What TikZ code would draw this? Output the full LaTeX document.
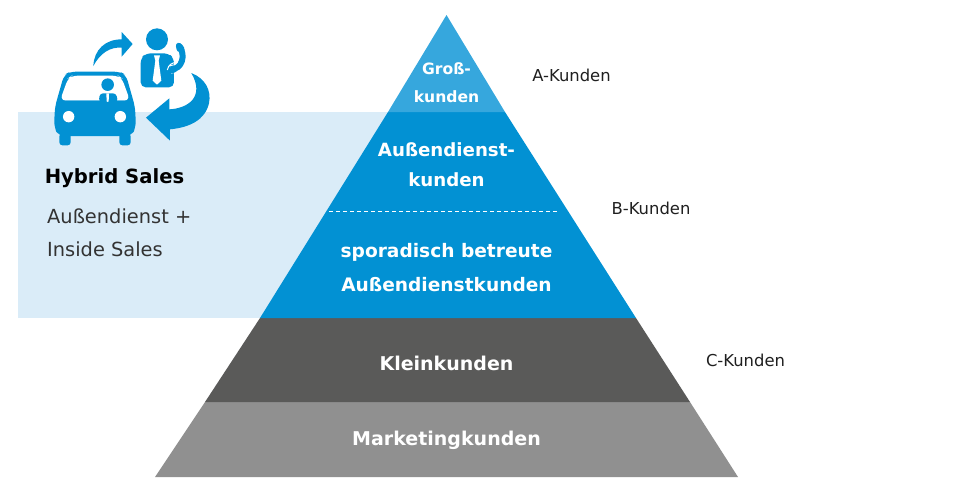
\documentclass[tikz,border=0pt]{standalone}
\usepackage{fontspec}
\setmainfont{DejaVu Sans}
\definecolor{lightblue}{HTML}{DAECF8}
\definecolor{midblue}{HTML}{0291D3}
\definecolor{topblue}{HTML}{36A7DD}
\definecolor{darkgrey}{HTML}{5A5A59}
\definecolor{midgrey}{HTML}{909090}
\definecolor{txt}{HTML}{1F1F1F}
\definecolor{txtsoft}{HTML}{333333}
\tikzset{
  layerlabel/.style={text=white,font=\bfseries\fontsize{18.6}{34}\selectfont,align=center,inner sep=0pt},
  sidelabel/.style={text=txt,font=\fontsize{16.4}{20}\selectfont,inner sep=0pt},
  icon/.style={fill=midblue,draw=none},
  iconcut/.style={fill=white,draw=none}
}
\begin{document}
\begin{tikzpicture}[x=1pt,y=-1pt]
\useasboundingbox (0,0) rectangle (969,477);
\fill[lightblue] (18,112) rectangle (400,318);
% pyramid
\fill[midgrey] (205,402) -- (690,402) -- (738,477) -- (155,477) -- cycle;
\fill[darkgrey] (260,318) -- (636,318) -- (690,402) -- (205,402) -- cycle;
\fill[midblue] (388,112) -- (505,112) -- (636,318) -- (260,318) -- cycle;
\fill[topblue] (446.5,15) -- (505,112) -- (388,112) -- cycle;
\draw[white,line width=0.6pt,dash pattern=on 4pt off 3pt] (329,211.5) -- (558,211.5);
% labels
\node[layerlabel,font=\bfseries\fontsize{15.6}{28}\selectfont] (gk) at (446.5,83) {Groß-\\kunden};
\node[layerlabel,font=\bfseries\fontsize{18.2}{30}\selectfont] (ak) at (446.5,165) {Außendienst-\\kunden};
\node[layerlabel] (sp) at (446.5,267.5) {sporadisch betreute\\Außendienstkunden};
\node[layerlabel,font=\bfseries\fontsize{19}{22}\selectfont] (kk) at (446.5,363) {Kleinkunden};
\node[layerlabel,font=\bfseries\fontsize{19}{22}\selectfont] (mk) at (446.5,440.5) {Marketingkunden};
\node[sidelabel] (a) at (571.5,75) {A-Kunden};
\node[sidelabel] (b) at (651,208) {B-Kunden};
\node[sidelabel] (c) at (745.5,360) {C-Kunden};
\node[inner sep=0pt,font=\bfseries\fontsize{19.6}{24}\selectfont,text=black] (hs) at (114.5,178.5) {Hybrid Sales};
\node[inner sep=0pt,anchor=west,align=left,text=txtsoft,font=\fontsize{19.4}{33}\selectfont] (ai) at (47,233) {Außendienst +\\Inside Sales};
% icons, in 3x crop coordinates
\begin{scope}[shift={(20,10)},x=0.33333pt,y=-0.33333pt]
 % arrow up right
 \fill[icon] (220,168) .. controls (222,120) and (255,88) .. (305,88) -- (305,66) -- (338,102) -- (305,140) -- (305,113) .. controls (270,110) and (240,130) .. (220,168) -- cycle;
 % big arrow
 \fill[icon] (514,189) .. controls (555,205) and (575,240) .. (567,280) .. controls (555,330) and (510,352) .. (450,358) -- (450,392) -- (378,323) -- (448,265) -- (448,298) .. controls (505,295) and (555,260) .. (514,189) -- cycle;
 % person
 \fill[icon] (411,88) circle[radius=11pt];
 \fill[icon,rounded corners=5pt] (378,130) -- (445,130) -- (462,145) -- (462,232) -- (362,232) -- (362,145) -- cycle;
 \fill[iconcut] (402,136) -- (420,136) -- (416,152) -- (424,212) -- (411,224) -- (398,212) -- (406,152) -- cycle;
 % phone
 \draw[white,line width=8.5pt] (480,112) .. controls (496,135) and (488,178) .. (452,178);
 \draw[midblue,line width=6pt] (480,112) .. controls (496,135) and (488,178) .. (452,178);
 \fill[icon,rounded corners=3pt] (466,100) -- (482,97) -- (497,120) -- (472,128) -- cycle;
 \draw[white,line width=1pt] (442,180) .. controls (445,165) and (455,157) .. (472,157);
 \fill[icon,rounded corners=3pt] (446,176) -- (462,162) -- (474,184) -- (450,192) -- cycle;
 % car
 \fill[icon,rounded corners=6pt] (150,185) -- (300,185) -- (318,195) -- (345,290) -- (348,350) -- (335,378) -- (115,378) -- (102,350) -- (105,290) -- (132,195) -- cycle;
 \fill[icon,rounded corners=3pt] (118,370) rectangle (152,406);
 \fill[icon,rounded corners=3pt] (298,370) rectangle (332,406);
 \fill[iconcut,rounded corners=6pt] (155,197) -- (295,197) -- (306,205) -- (330,272) -- (120,272) -- (144,205) -- cycle;
 \fill[icon] (129,272) -- (331,272) -- (331,277) -- (225,281) -- (125,277) -- cycle;
 \fill[icon] (263,224) circle[radius=6.3pt];
 \fill[icon,rounded corners=3pt] (236,275) -- (240,250) -- (288,250) -- (294,275) -- cycle;
 \fill[iconcut] (259,250) -- (267,250) -- (266,274) -- (263,276) -- (260,274) -- cycle;
 \fill[iconcut] (146,320) circle[radius=5.7pt];
 \fill[iconcut] (301,320) circle[radius=5.7pt];
\end{scope}
\end{tikzpicture}
\end{document}
